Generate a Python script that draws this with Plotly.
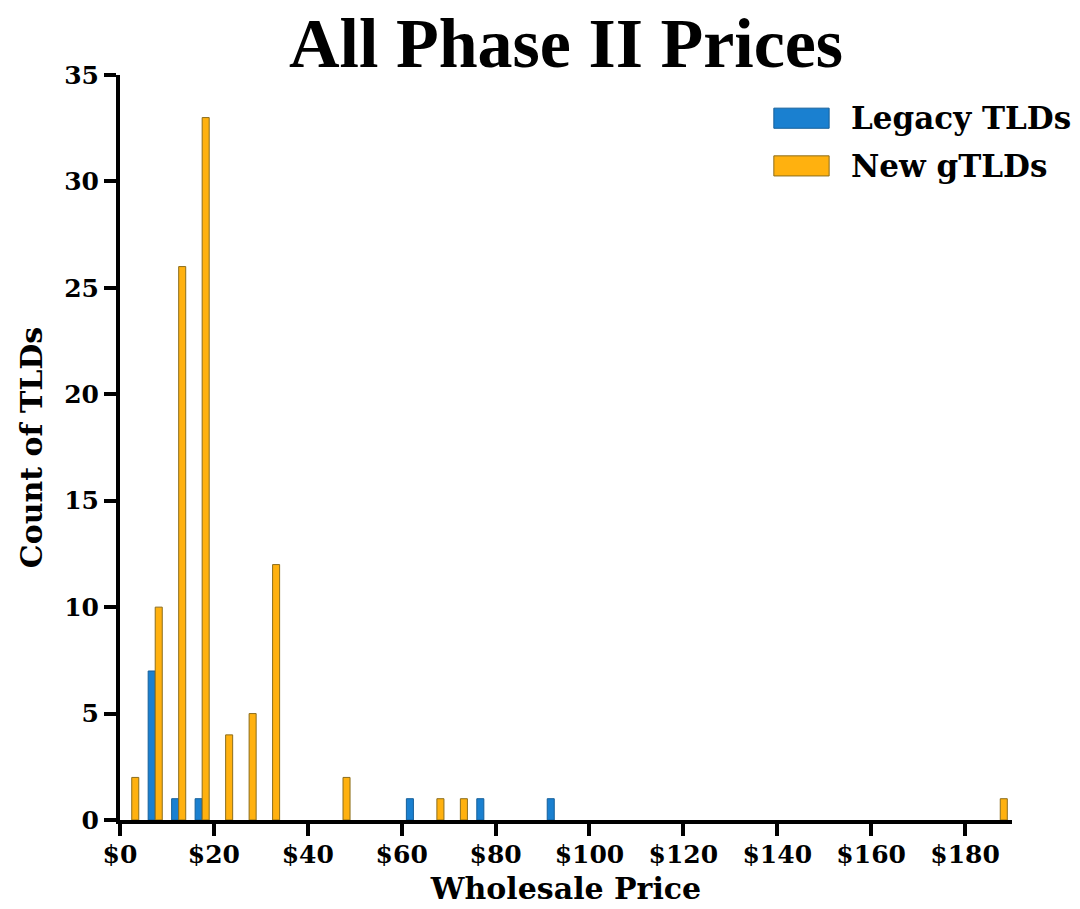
import plotly.graph_objects as go

# Histogram bins ($5 wide) — bin centers and counts
legacy_prices = [7.5, 12.5, 17.5, 62.5, 77.5, 92.5]
legacy_counts = [7, 1, 1, 1, 1, 1]
new_prices = [2.5, 7.5, 12.5, 17.5, 22.5, 27.5, 32.5, 47.5, 67.5, 72.5, 187.5]
new_counts = [2, 10, 26, 33, 4, 5, 12, 2, 1, 1, 1]

x_tickvals = [0, 20, 40, 60, 80, 100, 120, 140, 160, 180]
x_ticktext = ["$" + str(v) for v in x_tickvals]
y_tickvals = [0, 5, 10, 15, 20, 25, 30, 35]

series_names = ["Legacy TLDs", "New gTLDs"]
fill_colors = ["#1a80d0", "#ffb10f"]
line_colors = ["#155f9a", "#8c6d1c"]

FONT = "DejaVu Serif"

fig = go.Figure()
fig.add_trace(go.Bar(x=legacy_prices, y=legacy_counts, name=series_names[0],
                     marker=dict(color=fill_colors[0], line=dict(color=line_colors[0], width=1)),
                     showlegend=False))
fig.add_trace(go.Bar(x=new_prices, y=new_counts, name=series_names[1],
                     marker=dict(color=fill_colors[1], line=dict(color=line_colors[1], width=1)),
                     showlegend=False))

# custom legend with wide swatches
legend_y = [0.942, 0.878]
for i, name in enumerate(series_names):
    fig.add_shape(type="rect", xref="paper", yref="paper",
                  x0=0.733, x1=0.795, y0=legend_y[i] - 0.0135, y1=legend_y[i] + 0.0135,
                  fillcolor=fill_colors[i], line=dict(color=line_colors[i], width=1))
    fig.add_annotation(xref="paper", yref="paper", x=0.817, y=legend_y[i],
                       text="<b>" + name + "</b>", showarrow=False, xanchor="left",
                       yanchor="middle", font=dict(family=FONT, size=31, color="black"))

fig.update_layout(
    width=1080, height=909,
    margin=dict(l=120, r=68, t=75, b=89),
    paper_bgcolor="white", plot_bgcolor="white",
    barmode="group", bargap=0.4, bargroupgap=0,
    title=dict(text="<b>All Phase II Prices</b>", x=(120 + 1012) / 2 / 1080, xanchor="center",
               y=1 - 42 / 909, yanchor="middle",
               font=dict(family="Liberation Serif", size=70, color="black")),
    font=dict(family=FONT, color="black"),
)
fig.update_xaxes(
    range=[0, 190], tickvals=x_tickvals, ticktext=["<b>" + t + "</b>" for t in x_ticktext],
    showline=True, linecolor="black", linewidth=4, showgrid=False, zeroline=False,
    ticks="outside", ticklen=12, tickwidth=4, tickcolor="black", automargin=False,
    ticklabelstandoff=-3,
    tickfont=dict(family=FONT, size=25, color="black"),
    title=dict(text="<b>Wholesale Price</b>", font=dict(family=FONT, size=30, color="black"), standoff=11),
)
fig.update_yaxes(
    range=[0, 35], tickvals=y_tickvals, ticktext=["<b>" + str(v) + "</b>" for v in y_tickvals],
    showline=True, linecolor="black", linewidth=4, showgrid=False, zeroline=False,
    ticks="outside", ticklen=12, tickwidth=4, tickcolor="black", automargin=False,
    tickfont=dict(family=FONT, size=25, color="black"),
    title=dict(text="<b>Count of TLDs</b>", font=dict(family=FONT, size=30, color="black"), standoff=14),
)

fig.write_html("out.html", config={"displayModeBar": False},
               post_script="document.body.style.margin='0';document.body.style.overflow='hidden';")
